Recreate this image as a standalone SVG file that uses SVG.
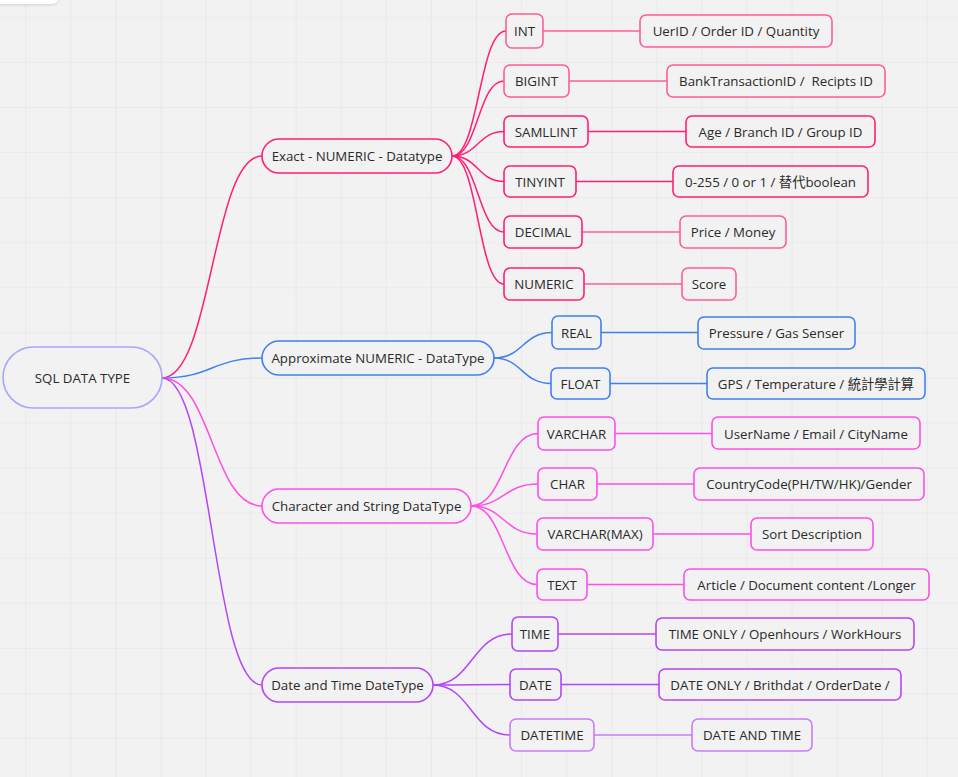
<svg xmlns="http://www.w3.org/2000/svg" width="958" height="777" viewBox="0 0 958 777">
<defs>
<pattern id="grid" patternUnits="userSpaceOnUse" x="25.2" y="16.8" width="45.08" height="45.08">
<path d="M0 0 V45.08 M0 0 H45.08" stroke="#e3e3e3" stroke-width="1.2" fill="none"/>
</pattern>
<filter id="sh" x="-50%" y="-50%" width="200%" height="300%">
<feDropShadow dx="0" dy="1" stdDeviation="1.5" flood-color="#000" flood-opacity="0.15"/>
</filter>
</defs>
<style>
text{font-family:"Open Sans","Noto Sans","Noto Sans CJK TC",sans-serif;font-size:13.3px;fill:#2a2a2a;text-anchor:middle;dominant-baseline:central}
rect{fill:#f2f2f2;stroke-width:1.6}
.c path,.c line{fill:none;stroke-width:1.5}
.r{stroke:#a6a6ff}
.e{stroke:#ff1f77}
.e2{stroke:#ff5c9c}
.a{stroke:#3f80f2}
.s{stroke:#ff4fe6}
.d{stroke:#b347f7}
.d2{stroke:#c77cfa}
</style>
<rect x="0" y="0" width="958" height="777" style="fill:#f2f2f2;stroke:none"/>
<rect x="0" y="0" width="958" height="777" style="fill:url(#grid);stroke:none"/>
<rect x="-20" y="-20" width="78" height="24" rx="6" style="fill:#ffffff;stroke:none" filter="url(#sh)"/>

<g class="c" id="connectors">
<path class="e" d="M162 378 C212 378 212 156 262 156"/>
<path class="a" d="M162 378 C212 378 212 358 262 358"/>
<path class="s" d="M162 378 C212 378 212 506 262 506"/>
<path class="d" d="M162 378 C212 378 212 685 262 685"/>

<path class="e" d="M452 156 C479 156 479 31 506 31"/>
<path class="e" d="M452 156 C478 156 478 81 504 81"/>
<path class="e" d="M452 156 C478 156 478 131.5 504 131.5"/>
<path class="e" d="M452 156 C478 156 478 181.5 504 181.5"/>
<path class="e" d="M452 156 C478 156 478 232 504 232"/>
<path class="e" d="M452 156 C478 156 478 284 504 284"/>

<path class="a" d="M494 358 C523 358 523 332.5 552 332.5"/>
<path class="a" d="M494 358 C522 358 522 383.5 551 383.5"/>

<path class="s" d="M471 506 C504 506 504 433.5 538 433.5"/>
<path class="s" d="M471 506 C504 506 504 484 538 484"/>
<path class="s" d="M471 506 C504 506 504 534 537 534"/>
<path class="s" d="M471 506 C504 506 504 584.5 537 584.5"/>

<path class="d" d="M433 685 C472 685 472 634 512 634"/>
<path class="d" d="M433 685 C471 685 471 684.5 510 684.5"/>
<path class="d" d="M433 685 C471 685 471 735 510 735"/>

<line class="e2" x1="543" y1="31" x2="640" y2="31"/>
<line class="e2" x1="569" y1="81" x2="667" y2="81"/>
<line class="e" x1="588" y1="131.5" x2="686" y2="131.5"/>
<line class="e" x1="576" y1="181.5" x2="673" y2="181.5"/>
<line class="e2" x1="582" y1="232" x2="680" y2="232"/>
<line class="e2" x1="584" y1="284" x2="682" y2="284"/>
<line class="a" x1="601" y1="332.5" x2="698" y2="332.5"/>
<line class="a" x1="610" y1="383.5" x2="707" y2="383.5"/>
<line class="s" x1="615" y1="433.5" x2="712" y2="433.5"/>
<line class="s" x1="597" y1="484" x2="694" y2="484"/>
<line class="s" x1="653" y1="534" x2="751" y2="534"/>
<line class="s" x1="587" y1="584.5" x2="684" y2="584.5"/>
<line class="d" x1="558" y1="634" x2="656" y2="634"/>
<line class="d" x1="561" y1="684.5" x2="659" y2="684.5"/>
<line class="d2" x1="594" y1="735" x2="692" y2="735"/>
</g>

<g id="root"><rect class="r" x="3" y="347" width="159" height="61" rx="30.5"/><text x="82.5" y="378">SQL DATA TYPE</text></g>

<g id="exact"><rect class="e" x="262" y="139" width="190" height="34" rx="17"/><text x="357" y="156">Exact - NUMERIC - Datatype</text></g>
<g id="int"><rect class="e2" x="506" y="14" width="37" height="34" rx="6"/><text x="524.5" y="31">INT</text></g>
<g id="bigint"><rect class="e2" x="504" y="65" width="65" height="32" rx="6"/><text x="536.5" y="81">BIGINT</text></g>
<g id="smallint"><rect class="e" x="504" y="116" width="84" height="31" rx="6"/><text x="546" y="131.5">SAMLLINT</text></g>
<g id="tinyint"><rect class="e" x="504" y="166" width="72" height="31" rx="6"/><text x="540" y="181.5">TINYINT</text></g>
<g id="decimal"><rect class="e" x="504" y="216" width="78" height="32" rx="6"/><text x="543" y="232">DECIMAL</text></g>
<g id="numeric"><rect class="e" x="504" y="268" width="80" height="32" rx="6"/><text x="544" y="284">NUMERIC</text></g>
<g id="int-ex"><rect class="e2" x="640" y="15" width="192" height="32" rx="6"/><text x="736" y="31">UerID / Order ID / Quantity</text></g>
<g id="bigint-ex"><rect class="e2" x="667" y="65" width="218" height="32" rx="6"/><text x="776" y="81" xml:space="preserve">BankTransactionID /  Recipts ID</text></g>
<g id="smallint-ex"><rect class="e" x="686" y="116" width="189" height="31" rx="6"/><text x="780.5" y="131.5">Age / Branch ID / Group ID</text></g>
<g id="tinyint-ex"><rect class="e" x="673" y="166" width="195" height="31" rx="6"/><text x="770.5" y="181.5">0-255 / 0 or 1 / 替代boolean</text></g>
<g id="decimal-ex"><rect class="e2" x="680" y="216" width="106" height="32" rx="6"/><text x="733" y="232">Price / Money</text></g>
<g id="numeric-ex"><rect class="e2" x="682" y="268" width="54" height="32" rx="6"/><text x="709" y="284">Score</text></g>

<g id="approx"><rect class="a" x="262" y="341" width="232" height="34" rx="17"/><text x="378" y="358">Approximate NUMERIC - DataType</text></g>
<g id="real"><rect class="a" x="552" y="316" width="49" height="33" rx="6"/><text x="576.5" y="332.5">REAL</text></g>
<g id="float"><rect class="a" x="551" y="368" width="59" height="31" rx="6"/><text x="580.5" y="383.5">FLOAT</text></g>
<g id="real-ex"><rect class="a" x="698" y="317" width="157" height="32" rx="6"/><text x="776.5" y="332.5">Pressure / Gas Senser</text></g>
<g id="float-ex"><rect class="a" x="707" y="368" width="218" height="31" rx="6"/><text x="816" y="383.5">GPS / Temperature / 統計學計算</text></g>

<g id="string"><rect class="s" x="262" y="489" width="209" height="34" rx="17"/><text x="366.5" y="506">Character and String DataType</text></g>
<g id="varchar"><rect class="s" x="538" y="417" width="77" height="33" rx="6"/><text x="576.5" y="433.5">VARCHAR</text></g>
<g id="char"><rect class="s" x="538" y="468" width="59" height="32" rx="6"/><text x="567.5" y="484">CHAR</text></g>
<g id="varcharmax"><rect class="s" x="537" y="518" width="116" height="32" rx="6"/><text x="595" y="534">VARCHAR(MAX)</text></g>
<g id="text"><rect class="s" x="537" y="569" width="50" height="31" rx="6"/><text x="562" y="584.5">TEXT</text></g>
<g id="varchar-ex"><rect class="s" x="712" y="417" width="208" height="32" rx="6"/><text x="816" y="433.5">UserName / Email / CityName</text></g>
<g id="char-ex"><rect class="s" x="694" y="468" width="230" height="32" rx="6"/><text x="809" y="484">CountryCode(PH/TW/HK)/Gender</text></g>
<g id="varcharmax-ex"><rect class="s" x="751" y="518" width="122" height="32" rx="6"/><text x="812" y="534">Sort Description</text></g>
<g id="text-ex"><rect class="s" x="684" y="569" width="245" height="31" rx="6"/><text x="806.5" y="584.5">Article / Document content /Longer</text></g>

<g id="datetime-type"><rect class="d" x="262" y="668" width="171" height="34" rx="17"/><text x="347.5" y="685">Date and Time DateType</text></g>
<g id="time"><rect class="d" x="512" y="617" width="46" height="34" rx="6"/><text x="535" y="634">TIME</text></g>
<g id="date"><rect class="d" x="510" y="669" width="51" height="31" rx="6"/><text x="535.5" y="684.5">DATE</text></g>
<g id="datetime"><rect class="d2" x="510" y="719" width="84" height="32" rx="6"/><text x="552" y="735">DATETIME</text></g>
<g id="time-ex"><rect class="d" x="656" y="618" width="258" height="32" rx="6"/><text x="785" y="634">TIME ONLY / Openhours / WorkHours</text></g>
<g id="date-ex"><rect class="d" x="659" y="669" width="242" height="31" rx="6"/><text x="780" y="684.5">DATE ONLY / Brithdat / OrderDate /</text></g>
<g id="datetime-ex"><rect class="d2" x="692" y="719" width="120" height="32" rx="6"/><text x="752" y="735">DATE AND TIME</text></g>
</svg>
